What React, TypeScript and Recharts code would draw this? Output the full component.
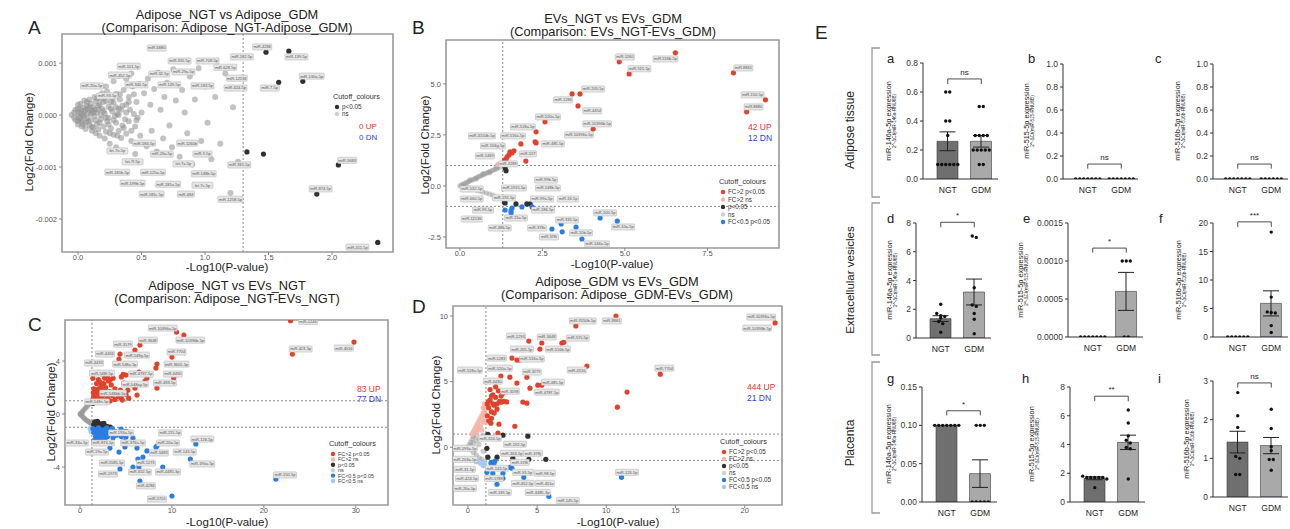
import React from 'react';
import {
  ScatterChart, Scatter, XAxis, YAxis, ReferenceLine, ReferenceArea, ReferenceDot,
  ComposedChart, Bar, Cell, ErrorBar,
} from 'recharts';

const FONT = "'Liberation Sans', Arial, Helvetica, sans-serif";
type Pt = [number, number];
type Lab = [string, number, number];

const RED = '#e2422b';
const PINK = '#f4b6a8';
const BLUE = '#2a7de1';
const LBLUE = '#a9c8ef';
const DARK = '#303030';
const GREY = '#9a9a9a';

// ---------------- Panel A : Adipose_NGT vs Adipose_GDM ----------------
const aNs: Pt[] = [
  [0.00, 0.00e-3], [0.01, 0.05e-3], [0.01, -0.05e-3], [0.02, 0.10e-3], [0.02, -0.08e-3], [0.03, 0.02e-3], [0.03, -0.12e-3],
  [0.04, 0.14e-3], [0.05, -0.03e-3], [0.05, 0.07e-3], [0.06, -0.15e-3], [0.07, 0.18e-3], [0.07, -0.06e-3], [0.08, 0.04e-3],
  [0.09, -0.20e-3], [0.10, 0.22e-3], [0.10, -0.10e-3], [0.11, 0.09e-3], [0.12, -0.24e-3], [0.12, 0.15e-3], [0.13, -0.02e-3],
  [0.14, 0.26e-3], [0.15, -0.17e-3], [0.15, 0.05e-3], [0.16, -0.28e-3], [0.17, 0.20e-3], [0.18, -0.08e-3], [0.18, 0.31e-3],
  [0.19, 0.12e-3], [0.20, -0.22e-3], [0.21, 0.03e-3], [0.22, 0.27e-3], [0.22, -0.32e-3], [0.23, -0.12e-3], [0.24, 0.16e-3],
  [0.25, 0.36e-3], [0.26, -0.26e-3], [0.27, 0.07e-3], [0.28, -0.38e-3], [0.28, 0.24e-3], [0.30, 0.41e-3], [0.30, -0.15e-3],
  [0.31, 0.02e-3], [0.32, -0.30e-3], [0.33, 0.30e-3], [0.34, -0.44e-3], [0.35, 0.18e-3], [0.36, 0.48e-3], [0.37, -0.08e-3],
  [0.38, -0.36e-3], [0.40, 0.35e-3], [0.41, 0.10e-3], [0.42, -0.50e-3], [0.43, 0.55e-3], [0.45, -0.22e-3], [0.46, 0.25e-3],
  [0.48, 0.60e-3], [0.49, -0.40e-3], [0.50, 0.05e-3],
  [0.00, 0.12e-3], [0.00, -0.12e-3], [0.00, 0.20e-3], [0.00, -0.18e-3], [0.02, 0.22e-3], [0.03, -0.22e-3], [0.05, 0.28e-3],
  [0.06, -0.27e-3], [0.08, 0.12e-3], [0.09, 0.30e-3], [0.11, -0.30e-3], [0.13, 0.35e-3], [0.14, -0.35e-3], [0.16, 0.10e-3],
  [0.17, -0.40e-3], [0.19, 0.42e-3], [0.21, -0.45e-3], [0.23, 0.45e-3], [0.24, -0.05e-3], [0.26, 0.12e-3], [0.29, -0.02e-3],
  [0.32, 0.12e-3], [0.35, -0.20e-3], [0.38, 0.20e-3], [0.40, -0.12e-3], [0.44, 0.02e-3], [0.47, -0.05e-3],
  [0.04, 0.00e-3], [0.06, 0.10e-3], [0.08, -0.12e-3], [0.10, 0.02e-3], [0.12, 0.05e-3], [0.14, -0.10e-3], [0.16, 0.18e-3],
  [0.18, 0.00e-3], [0.20, 0.08e-3], [0.22, -0.05e-3], [0.24, -0.18e-3], [0.26, 0.25e-3], [0.28, -0.10e-3], [0.30, 0.15e-3],
  [0.32, 0.00e-3], [0.34, 0.10e-3], [0.36, -0.25e-3], [0.20, 0.25e-3], [0.25, -0.35e-3], [0.15, 0.32e-3], [0.11, -0.22e-3],
  [0.07, 0.25e-3], [0.04, -0.18e-3], [0.09, 0.15e-3], [0.13, 0.10e-3], [0.17, -0.15e-3], [0.21, 0.35e-3], [0.27, 0.33e-3],
  [0.31, -0.40e-3], [0.33, 0.40e-3], [0.38, 0.05e-3], [0.40, 0.25e-3], [0.42, -0.30e-3], [0.44, 0.40e-3], [0.46, -0.10e-3],
  [-0.03, 0.05e-3], [-0.03, -0.05e-3], [-0.05, 0.00e-3], [-0.02, 0.10e-3], [-0.02, -0.10e-3],
  [0.22, 0.55e-3], [0.28, 0.65e-3], [0.32, 0.75e-3], [0.38, 0.70e-3], [0.25, -0.55e-3], [0.30, -0.62e-3], [0.36, -0.70e-3],
  [0.42, 0.80e-3], [0.45, -0.75e-3],
  [0.52, 0.42e-3], [0.54, -0.60e-3], [0.55, 0.70e-3], [0.57, 0.20e-3], [0.58, -0.30e-3], [0.60, 0.50e-3], [0.62, -0.70e-3],
  [0.63, 0.82e-3], [0.65, 0.10e-3], [0.67, -0.45e-3], [0.68, 0.35e-3], [0.70, 0.62e-3], [0.72, -0.20e-3], [0.74, -0.62e-3],
  [0.75, 0.88e-3], [0.77, 0.28e-3], [0.80, -0.80e-3], [0.82, 0.48e-3], [0.84, 0.05e-3], [0.86, -0.35e-3], [0.88, 0.74e-3],
  [0.90, -0.95e-3], [0.92, 0.30e-3], [0.95, 0.90e-3], [0.97, -0.50e-3], [1.00, 0.55e-3], [1.02, -0.15e-3], [1.05, -0.85e-3],
  [1.08, 0.35e-3], [1.12, -0.55e-3], [1.16, 0.80e-3], [1.20, -1.50e-3], [1.22, 0.15e-3], [1.26, -0.90e-3],
];
const aSig: Pt[] = [
  [1.48, 1.21e-3], [1.66, 1.23e-3], [1.58, 0.63e-3], [1.77, 0.65e-3], [1.33, -0.71e-3], [1.46, -0.75e-3],
  [2.05, -0.96e-3], [1.88, -1.52e-3], [2.36, -2.45e-3],
];
const aLabels: Lab[] = [
  ['miR-6880', 0.62, 1.29e-3], ['miR-708-5p', 1.02, 1.04e-3], ['miR-335-5p', 0.80, 1.04e-3], ['miR-101-5p', 0.40, 0.94e-3],
  ['miR-4286', 1.45, 1.31e-3], ['miR-182-5p', 1.29, 1.12e-3], ['miR-139-5p', 1.72, 1.12e-3], ['miR-628-5p', 1.16, 0.92e-3],
  ['miR-29a-5p', 0.83, 0.83e-3], ['miR-32-5p', 0.64, 0.79e-3], ['miR-452-5p', 0.33, 0.77e-3], ['miR-12136', 1.25, 0.71e-3],
  ['miR-130a-5p', 1.84, 0.75e-3], ['miR-20a-5p', 0.11, 0.56e-3], ['miR-340-5p', 0.46, 0.58e-3], ['miR-149-5p', 0.72, 0.58e-3],
  ['miR-183-5p', 0.98, 0.56e-3], ['miR-424-5p', 1.24, 0.52e-3], ['miR-7-5p', 1.51, 0.52e-3], ['miR-93-5p', 0.23, 0.37e-3],
  ['miR-584-5p', 0.52, -0.54e-3], ['miR-1260b', 0.86, -0.54e-3], ['let-7e-5p', 0.31, -0.69e-3], ['miR-26a-5p', 0.66, -0.75e-3],
  ['miR-9-5p', 0.98, -0.75e-3], ['let-7f-5p', 0.43, -0.90e-3], ['let-7a-5p', 0.83, -0.94e-3], ['miR-365-5p', 1.27, -0.96e-3],
  ['miR-5683', 2.12, -0.87e-3], ['miR-181b-5p', 0.31, -1.10e-3], ['miR-125a-5p', 0.59, -1.10e-3], ['miR-148b-5p', 0.99, -1.13e-3],
  ['miR-199b-5p', 0.43, -1.31e-3], ['miR-181a-5p', 0.71, -1.33e-3], ['let-7c-5p', 0.98, -1.35e-3], ['miR-874-5p', 1.91, -1.42e-3],
  ['miR-181c-5p', 0.58, -1.52e-3], ['miR-484', 0.85, -1.52e-3], ['miR-1258-5p', 1.20, -1.62e-3], ['miR-411-5p', 2.20, -2.54e-3],
];

// ---------------- Panel B : EVs_NGT vs EVs_GDM ----------------
const bUp: Pt[] = [
  [6.53, 6.52], [4.83, 6.08], [5.13, 5.49], [8.29, 5.54], [9.26, 4.22], [8.69, 3.63], [3.64, 4.51], [3.40, 4.51],
  [3.58, 3.92], [4.04, 2.79], [2.58, 3.14], [2.31, 2.65], [2.28, 2.16], [2.31, 2.11], [1.85, 2.06], [1.64, 1.72],
  [1.58, 1.62], [1.49, 1.52], [1.43, 1.42], [1.40, 1.32], [2.00, 1.22], [1.32, 1.05], [1.35, 1.27], [1.52, 1.67],
];
const bFcNs: Pt[] = [[1.15, 1.05], [1.25, 1.10]];
const bSig: Pt[] = [[1.37, 0.88], [1.40, 0.74], [1.37, -0.83], [1.70, -0.88], [2.03, -0.88], [2.13, -0.88], [1.35, -0.80]];
const bNs: Pt[] = [
  [0.00, 0.00], [0.05, 0.05], [0.10, 0.09], [0.15, 0.13], [0.20, 0.17], [0.25, 0.20], [0.30, 0.24], [0.35, 0.28],
  [0.40, 0.31], [0.45, 0.36], [0.50, 0.40], [0.55, 0.44], [0.60, 0.47], [0.65, 0.51], [0.70, 0.55], [0.75, 0.58],
  [0.80, 0.62], [0.85, 0.66], [0.90, 0.70], [0.95, 0.73], [1.00, 0.77], [1.05, 0.80], [1.10, 0.84], [1.15, 0.88],
  [1.20, 0.92], [0.30, 0.30], [0.50, 0.35], [0.70, 0.60], [0.90, 0.65], [1.10, 0.95], [0.20, -0.05], [0.40, -0.12],
  [0.60, -0.25], [0.80, -0.35], [1.00, -0.45], [1.20, -0.60], [0.10, -0.03], [0.30, -0.10], [0.50, -0.20], [0.70, -0.30],
  [0.90, -0.40], [1.10, -0.55],
];
const bDn: Pt[] = [
  [1.37, -1.18], [1.55, -1.23], [1.58, -1.08], [1.88, -1.03], [2.19, -1.03], [4.25, -1.57], [4.77, -1.72],
  [3.07, -1.86], [2.79, -2.11], [3.52, -2.01], [3.10, -2.25], [3.70, -2.60], [1.55, -1.33],
];
const bLabels: Lab[] = [
  ['miR-1260', 5.0, 6.32], ['miR-516b-5p', 6.23, 6.22], ['miR-515-5p', 5.44, 5.74], ['miR-8861', 8.59, 5.78],
  ['miR-205-5p', 4.04, 4.75], ['miR-1283', 3.13, 4.22], ['miR-150-5p', 8.87, 4.46], ['miR-4454', 4.01, 3.68],
  ['miR-8880', 8.90, 3.87], ['miR-520a-5p', 2.67, 3.38], ['miR-10396b-5p', 4.16, 3.04], ['miR-518a-5p', 1.91, 2.89],
  ['miR-10396a-5p', 3.61, 2.50], ['miR-3150b-5p', 0.67, 2.45], ['miR-516a-5p', 1.61, 2.45], ['miR-106g-5p', 1.0, 1.96],
  ['miR-485-5p', 2.82, 2.06], ['miR-1469', 0.76, 1.47], ['miR-527', 2.06, 1.57], ['miR-4289', 1.46, 1.08],
  ['miR-99b-5p', 2.61, 0.29], ['miR-1915-5p', 1.64, -0.10], ['miR-148b-5p', 2.67, -0.10], ['miR-532-5p', 0.36, -0.15],
  ['miR-192-5p', 1.34, -0.59], ['miR-660-5p', 0.36, -0.64], ['miR-99a-5p', 2.49, -0.64], ['miR-16-5p', 3.28, -0.64],
  ['miR-99-5p', 0.70, -1.18], ['miR-186-5p', 2.52, -1.18], ['miR-12136', 0.36, -1.62], ['miR-15a-5p', 1.70, -1.57],
  ['miR-100-5p', 4.40, -1.32], ['miR-486-5p', 1.21, -2.06], ['miR-335-5p', 3.25, -1.67], ['miR-10a-5p', 4.95, -2.01],
  ['miR-378c', 2.34, -2.06], ['miR-10b-5p', 3.67, -2.30], ['miR-378i', 2.70, -2.50], ['miR-146a-5p', 4.16, -2.84],
];

// ---------------- Panel C : Adipose_NGT vs EVs_NGT ----------------
const cUp: Pt[] = [
  [22.9, 7.05], [29.8, 5.43], [23.1, 4.53], [10.5, 6.19], [11.3, 5.96], [6.52, 5.21], [5.98, 4.83], [4.35, 4.53],
  [4.24, 4.15], [10.0, 4.30], [8.37, 3.77], [8.26, 3.47], [6.41, 3.17], [7.28, 2.72], [7.07, 2.49], [10.2, 2.72],
  [8.37, 1.96], [5.98, 1.96], [6.2, 1.43], [4.78, 2.34], [5.0, 2.94], [4.5, 2.8], [4.7, 3.0], [2.7, 2.7], [1.4, 2.7],
  [1.4, 1.1], [1.5, 1.3], [1.6, 1.5], [1.7, 1.2], [1.8, 1.7], [1.9, 1.4], [2.0, 1.9], [2.1, 1.1], [2.2, 1.6], [2.3, 2.1],
  [2.4, 1.3], [2.5, 1.8], [2.6, 2.3], [2.7, 1.5], [2.8, 2.0], [3.0, 1.2], [3.1, 2.5], [3.2, 1.7], [3.4, 2.2], [3.5, 1.4],
  [3.6, 2.7], [3.8, 1.9], [4.0, 1.6], [4.2, 1.3], [4.4, 1.8], [2.0, 2.6], [2.7, 2.8], [1.6, 1.0], [2.9, 1.1], [3.3, 1.0],
  [3.8, 1.1], [4.5, 1.2], [5.0, 1.5], [5.2, 1.8], [1.5, 1.9], [1.8, 2.3], [2.2, 2.4], [3.0, 2.9], [3.3, 2.6], [1.45, 1.6],
  [4.6, 1.05], [5.3, 1.2],
];
const cSig: Pt[] = [
  [1.5, -0.8], [1.8, -0.85], [2.1, -0.9], [2.4, -0.95], [2.7, -0.9], [3.0, -0.95], [1.6, -0.6], [2.0, -0.7],
  [2.3, -0.75], [3.3, -0.98], [1.4, 0.8], [1.6, 0.9], [1.9, -0.55], [2.6, -0.7],
];
const cNs: Pt[] = [
  [1.2, 0.95], [1.0, 0.8], [0.8, 0.6], [0.6, 0.45], [0.4, 0.3], [0.25, 0.15], [0.1, 0.05], [0.0, 0.0], [0.1, -0.08],
  [0.3, -0.2], [0.5, -0.35], [0.7, -0.45], [0.9, -0.55], [1.1, -0.65], [1.3, -0.75], [1.1, 0.9], [0.9, 0.72], [0.7, 0.55],
  [0.5, 0.38], [0.3, 0.2], [0.2, 0.1], [0.2, -0.12], [0.4, -0.28], [0.6, -0.42], [0.8, -0.52], [1.0, -0.6], [1.2, -0.7],
  [1.3, 0.85], [0.05, 0.02], [0.15, -0.03],
];
const cDn: Pt[] = [
  [1.4, -1.1], [1.5, -1.4], [1.6, -1.2], [1.7, -1.7], [1.8, -1.3], [1.9, -1.9], [2.0, -1.5], [2.1, -1.1], [2.2, -1.8],
  [2.3, -1.3], [2.4, -2.1], [2.5, -1.6], [2.6, -1.2], [2.7, -1.9], [2.8, -1.4], [3.0, -1.7], [3.1, -2.2], [3.2, -1.2],
  [3.4, -1.5], [3.6, -1.8], [3.8, -1.3], [4.0, -1.6], [4.3, -1.4], [1.5, -2.0], [1.8, -2.2], [2.0, -1.05], [2.9, -1.05],
  [3.5, -1.1], [4.5, -1.7], [5.0, -1.3],
  [4.46, -1.13], [5.0, -1.73], [5.76, -1.81], [4.78, -2.11], [4.89, -2.49], [3.26, -2.57], [4.24, -2.87], [6.2, -2.57],
  [7.28, -2.79], [8.26, -2.49], [8.37, -2.42], [12.6, -2.26], [6.85, -3.25], [6.3, -3.40], [12.0, -3.40], [9.0, -4.0],
  [4.35, -4.15], [5.76, -4.0], [6.41, -4.0], [6.52, -5.06], [10.0, -6.19], [21.3, -4.91], [2.28, -1.58], [2.9, -1.66],
];
const cDnNs: Pt[] = [[1.1, -1.1], [1.2, -1.3]];
const cLabels: Lab[] = [
  ['miR-1246', 24.8, 7.0], ['miR-10396a-5p', 9.0, 6.49], ['miR-10396b-5p', 12.0, 5.58], ['miR-3179', 4.67, 5.28],
  ['miR-3648', 7.39, 5.58], ['miR-423-5p', 24.0, 4.91], ['miR-4516', 28.7, 4.98], ['miR-4466', 2.72, 4.53],
  ['miR-548g-5p', 6.2, 4.45], ['miR-7704', 10.5, 4.68], ['miR-4433', 1.52, 3.85], ['miR-548a-5p', 4.9, 3.77],
  ['miR-3605-5p', 10.5, 3.77], ['miR-548f-5p', 2.39, 3.09], ['miR-4787-5p', 6.63, 3.02], ['miR-4490', 10.1, 3.02],
  ['miR-548ay-5p', 5.98, 2.26], ['miR-483-5p', 9.24, 2.34], ['miR-548bb-5p', 3.59, 1.58], ['miR-548n-5p', 1.85, 0.91],
  ['miR-193a-5p', 4.46, -1.43], ['miR-215-5p', 9.78, -1.43], ['miR-33a-5p', -0.33, -2.19], ['miR-874-5p', 2.5, -2.19],
  ['miR-376a-5p', 5.76, -2.19], ['miR-20a-5p', 9.57, -2.19], ['miR-126-5p', 13.3, -1.89], ['miR-19a-5p', 1.85, -2.87],
  ['miR-5683', 8.59, -2.94], ['miR-143-5p', 11.4, -2.87], ['miR-5585-5p', 3.48, -3.70], ['miR-1273', 7.17, -3.70],
  ['miR-190a-5p', 13.3, -3.77], ['miR-1973', 3.04, -4.53], ['miR-652-5p', 6.52, -4.38], ['miR-4485-3p', 9.57, -4.38],
  ['miR-150-5p', 22.3, -4.6], ['miR-4284', 7.17, -5.43], ['miR-5701', 8.37, -6.42],
];

// ---------------- Panel D : Adipose_GDM vs EVs_GDM ----------------
const dUp: Pt[] = [
  [10.7, 10.0], [7.8, 9.24], [22.2, 9.47], [4.4, 8.09], [5.34, 7.94], [6.79, 7.94], [6.93, 8.0], [5.2, 7.48],
  [3.18, 6.79], [3.54, 6.64], [3.75, 6.64], [8.6, 6.18], [13.9, 5.57], [2.38, 5.42], [3.03, 5.34], [4.26, 5.34],
  [3.54, 4.89], [4.48, 4.5], [5.05, 4.73], [5.34, 4.73], [11.5, 4.2], [10.8, 3.05], [3.97, 3.44], [4.26, 3.36],
  [2.31, 3.44], [2.45, 3.44], [3.39, 1.6], [2.24, 1.76], [1.66, 1.83], [2.17, 1.07],
  [1.4, 2.4], [1.5, 3.0], [1.6, 3.6], [1.7, 2.7], [1.8, 4.0], [1.9, 3.2], [2.0, 3.8], [2.1, 2.9], [2.2, 4.3], [2.3, 3.5],
  [1.5, 2.0], [1.6, 4.4], [1.8, 3.3], [2.0, 4.6], [2.4, 3.9], [1.7, 2.2], [1.4, 3.3], [2.5, 4.1], [2.1, 3.3], [1.9, 2.6],
  [2.6, 3.5], [2.8, 3.45], [1.5, 3.5], [1.7, 3.9],
];
const dFcNs: Pt[] = [
  [0.3, 1.0], [0.4, 1.2], [0.5, 1.4], [0.6, 1.6], [0.7, 1.8], [0.8, 2.0], [0.9, 2.2], [1.0, 2.4], [1.1, 2.6], [1.2, 2.8],
  [1.25, 3.0], [1.2, 3.3], [0.5, 1.1], [0.7, 1.3], [0.9, 1.6], [1.1, 1.9], [1.0, 1.3], [1.2, 2.1], [0.8, 1.5], [0.6, 1.2],
  [1.25, 2.5], [1.1, 3.0],
];
const dNs: Pt[] = [
  [0.0, 0.0], [0.1, 0.2], [0.2, 0.4], [0.3, 0.6], [0.4, 0.8], [0.5, 0.9], [0.2, 0.1], [0.4, 0.3], [0.6, 0.5], [0.8, 0.7],
  [1.0, 0.8], [1.2, 0.9], [0.2, -0.2], [0.4, -0.4], [0.6, -0.6], [0.8, -0.8], [1.0, -0.9], [0.5, -0.2], [0.8, 0.2],
  [1.1, -0.3], [0.3, -0.1],
];
const dSig: Pt[] = [
  [2.53, 0.92], [4.33, 0.84], [1.44, 0.99], [5.63, -0.92], [3.25, -0.84], [2.1, -0.76], [1.44, -0.76], [4.4, -0.92], [1.37, -0.08],
];
const dDn: Pt[] = [
  [1.73, -1.15], [1.95, -1.05], [1.66, -1.2], [1.88, -1.22], [3.03, -1.53], [3.18, -1.6], [1.37, -1.91], [1.8, -1.98],
  [2.53, -1.98], [2.1, -2.82], [2.53, -2.37], [4.04, -2.29], [11.1, -2.29], [5.85, -3.74],
];
const dDnNs: Pt[] = [[0.6, -1.1], [0.9, -1.2], [1.1, -1.4], [1.2, -1.1]];
const dLabels: Lab[] = [
  ['miR-3150b-5p', 8.3, 9.62], ['miR-8861', 10.4, 9.62], ['miR-10396a-5p', 21.2, 9.92], ['miR-10396b-5p', 20.9, 9.08],
  ['miR-1293', 3.47, 8.47], ['miR-3648', 5.7, 8.4], ['miR-515-5p', 7.94, 8.32], ['miR-205-5p', 3.9, 7.48],
  ['miR-516b-5p', 6.5, 7.48], ['miR-1283', 2.09, 6.79], ['miR-516a-5p', 4.62, 6.72], ['miR-518a-5p', 0.14, 5.88],
  ['miR-520a-5p', 2.31, 6.03], ['miR-4516', 7.87, 5.88], ['miR-7704', 14.2, 6.03], ['miR-3179', 4.62, 5.73],
  ['miR-4430', 1.8, 5.04], ['miR-485-5p', 6.14, 4.96], ['miR-3198', 3.03, 4.27], ['miR-4787-5p', 5.7, 4.2],
  ['miR-324-5p', 1.59, 0.69], ['miR-192-5p', 3.39, 0.23], ['miR-193a-5p', -0.22, -0.08], ['miR-363-5p', 3.18, -0.46],
  ['miR-378j', 4.69, -0.46], ['miR-203a-5p', -0.22, -0.92], ['miR-378i', 3.75, -1.15], ['miR-31-5p', -0.22, -1.68],
  ['miR-143-5p', 2.09, -1.6], ['miR-93-5p', 3.97, -1.91], ['miR-98-5p', 5.56, -1.98], ['miR-424-5p', -0.07, -2.37],
  ['miR-5788', 1.88, -2.37], ['miR-452-5p', 3.97, -2.75], ['miR-451a', 5.56, -2.75], ['miR-126-5p', 11.5, -1.91],
  ['miR-20a-5p', -0.22, -3.13], ['miR-139-5p', 2.31, -3.44], ['miR-4485-3p', 5.05, -3.44], ['miR-145-5p', 7.22, -4.05],
];

// ---------------- Panel E : qPCR bar charts ----------------
const groups = ['NGT', 'GDM'];
const aMeans = [0.26, 0.26], aSems = [0.065, 0.04];
const aNGT = [0.6, 0.6, 0.4, 0.4, 0.3, 0.1, 0.1, 0.1, 0.1, 0.1, 0.1];
const aGDM = [0.5, 0.5, 0.3, 0.3, 0.3, 0.3, 0.2, 0.2, 0.2, 0.2, 0.2, 0.1, 0.1];
const bMeans = [0, 0], bSems = [0, 0];
const bNGT = [0, 0, 0, 0, 0, 0, 0];
const bGDM = [0, 0, 0, 0, 0, 0, 0];
const cMeans = [0, 0], cSems = [0, 0];
const cNGT = [0, 0, 0, 0, 0, 0, 0];
const cGDM = [0, 0, 0, 0, 0, 0];
const dMeans = [1.35, 3.2], dSems = [0.2, 0.9];
const dNGT = [2.35, 1.7, 1.55, 1.5, 1.4, 1.15, 1.0, 0.4];
const dGDM = [7.0, 7.1, 3.5, 2.3, 2.2, 1.7, 1.3, 0.3];
const eMeans = [0, 0.0006], eSems = [0, 0.00025];
const eNGT = [0, 0, 0, 0, 0, 0, 0];
const eGDM = [0.001, 0.001, 0.001, 0, 0];
const fMeans = [0, 5.9], fSems = [0, 2.2];
const fNGT = [0, 0, 0, 0, 0, 0];
const fGDM = [18.4, 7.0, 4.4, 4.3, 4.2, 2.0, 0.8];
const gMeans = [0.1, 0.037], gSems = [0, 0.018];
const gNGT = [0.1, 0.1, 0.1, 0.1, 0.1, 0.1, 0.1];
const gGDM = [0.1, 0.1, 0.1, 0, 0, 0, 0, 0];
const hMeans = [1.65, 4.15], hSems = [0.1, 0.5];
const hNGT = [1.8, 1.7, 1.7, 1.7, 1.7, 1.7, 1.6, 1.0];
const hGDM = [6.4, 5.5, 4.6, 4.3, 4.1, 3.8, 3.7, 1.6];
const iMeans = [1.42, 1.33], iSems = [0.28, 0.21];
const iNGT = [2.7, 2.1, 1.8, 1.05, 1.0, 0.58, 0.58];
const iGDM = [2.27, 1.77, 1.3, 1.2, 0.97, 0.97, 0.69];

// ---------------- helpers ----------------
const toXY = (a: Pt[]) => a.map(([x, y]) => ({ x, y }));
const toLab = (a: Lab[]) => a.map(([name, x, y]) => ({ x, y, name }));

const dotShape = (fill: string, op = 1, r = 2.6) => (p: any) =>
  p.cx == null ? <g /> : <circle cx={p.cx} cy={p.cy} r={r} fill={fill} fillOpacity={op} />;

const labelShape = (p: any) => {
  const name: string = p.payload?.name ?? '';
  const w = name.length * 1.95 + 3.5;
  const h = 6.2;
  if (p.cx == null) return <g />;
  return (
    <g>
      <rect x={p.cx - w / 2} y={p.cy - h / 2} width={w} height={h} rx={0.8} fill="#e6e6e6" stroke="#b0b0b0" strokeWidth={0.5} />
      <text x={p.cx} y={p.cy + 1.45} fontSize={4} textAnchor="middle" fill="#555">{name}</text>
    </g>
  );
};

function swarm(vals: number[], gi: number, tol: number, step: number) {
  const sorted = [...vals].sort((a, b) => b - a);
  const gs: number[][] = [];
  for (const v of sorted) {
    const g = gs.find((q) => Math.abs(q[0] - v) <= tol);
    if (g) g.push(v); else gs.push([v]);
  }
  return gs.flatMap((g) => g.map((v, i) => ({ x: gi + (i - (g.length - 1) / 2) * step, y: v })));
}

function Volcano(props: any) {
  const { left, top, width, height, mt, mr, yw, xh, xDomain, yDomain, xTicks, yTicks, xFmt, yFmt, series, labels, hlines } = props;
  const tick = { fontSize: 7.5, fill: '#555' };
  return (
    <div style={{ position: 'absolute', left, top }}>
      <ScatterChart width={width} height={height} margin={{ top: mt, right: mr, bottom: 0, left: 0 }}>
        <XAxis type="number" dataKey="x" domain={xDomain} ticks={xTicks} tickFormatter={xFmt} allowDataOverflow
          height={xh} axisLine={false} tickSize={3} tickMargin={0} tickLine={{ stroke: '#888' }} tick={tick} interval={0} />
        <YAxis type="number" dataKey="y" domain={yDomain} ticks={yTicks} tickFormatter={yFmt} allowDataOverflow
          width={yw} axisLine={false} tickSize={3} tickLine={{ stroke: '#888' }} tick={tick} interval={0} />
        <ReferenceArea x1={xDomain[0]} x2={xDomain[1]} y1={yDomain[0]} y2={yDomain[1]} fill="#fff" fillOpacity={0}
          stroke="#9a9a9a" strokeWidth={1.6} ifOverflow="visible" />
        <ReferenceLine x={1.3} stroke="#8a8a8a" strokeDasharray="2 2" />
        {hlines.map((h: number) => <ReferenceLine key={h} y={h} stroke="#8a8a8a" strokeDasharray="2 2" />)}
        {series.map((s: any, i: number) => (
          <Scatter key={i} data={toXY(s.data)} isAnimationActive={false} shape={dotShape(s.fill, s.op, s.r ?? 2.6)} />
        ))}
        <Scatter data={toLab(labels)} isAnimationActive={false} shape={labelShape} />
      </ScatterChart>
    </div>
  );
}

function BarPanel(props: any) {
  const { axisX, yTop, yBottom, max, ticks, fmt, means, sems, ngt, gdm, sig, h, d } = props;
  const mt = 22, xh = 18, W = 113;
  const H = yBottom - yTop + mt + xh;
  const barData = groups.map((g, i) => ({ name: g, mean: means[i], sem: sems[i] }));
  const tol = max * 0.03;
  const dots = [...swarm(ngt, 0, tol, 0.12), ...swarm(gdm, 1, tol, 0.12)];
  const pad = { left: 8, right: 0 };
  return (
    <div style={{ position: 'absolute', left: axisX - 33, top: yTop - mt }}>
      <ComposedChart width={W} height={H} data={barData} margin={{ top: mt, right: 5, bottom: 0, left: 0 }}>
        <XAxis xAxisId="cat" type="category" dataKey="name" padding={pad} height={xh} tickLine={false} tickSize={6}
          axisLine={{ stroke: '#333' }} tick={{ fontSize: 8.5, fill: '#222' }} interval={0} />
        <XAxis xAxisId="num" type="number" dataKey="x" domain={[-0.5, 1.5]} padding={pad} hide allowDataOverflow />
        <YAxis type="number" dataKey="y" domain={[0, max]} ticks={ticks} tickFormatter={fmt} allowDataOverflow width={33}
          tickSize={3} axisLine={{ stroke: '#333' }} tickLine={{ stroke: '#333' }} tick={{ fontSize: 8.5, fill: '#333' }} interval={0} />
        <Bar xAxisId="cat" dataKey="mean" barSize={21} isAnimationActive={false} stroke="#3a3a3a" strokeWidth={0.6}>
          <Cell fill="#6f6f6f" />
          <Cell fill="#a9a9a9" />
          <ErrorBar dataKey="sem" width={8} stroke="#222" strokeWidth={1} direction="y" isAnimationActive={false} />
        </Bar>
        <Scatter xAxisId="num" data={dots} isAnimationActive={false} shape={dotShape('#111', 1, 1.7)} />
        <ReferenceLine xAxisId="num" segment={[{ x: 0, y: h }, { x: 1, y: h }]} stroke="#222" strokeWidth={0.8} ifOverflow="visible" />
        <ReferenceLine xAxisId="num" segment={[{ x: 0, y: h }, { x: 0, y: h - d }]} stroke="#222" strokeWidth={0.8} ifOverflow="visible" />
        <ReferenceLine xAxisId="num" segment={[{ x: 1, y: h }, { x: 1, y: h - d }]} stroke="#222" strokeWidth={0.8} ifOverflow="visible" />
        <ReferenceDot xAxisId="num" x={0.5} y={h} r={1} fill="none" stroke="none" ifOverflow="visible"
          label={{ value: sig, position: 'top', fontSize: 8, fill: '#222', offset: 3 }} />
      </ComposedChart>
    </div>
  );
}

const f1 = (v: number) => v.toFixed(1);
const f0 = (v: number) => String(v);

const Rot = ({ x, y, size, children, fill = '#222' }: any) => (
  <text transform={`translate(${x},${y}) rotate(-90)`} textAnchor="middle" fontSize={size} fill={fill}>{children}</text>
);

function Legend({ x, y, items, dy, fs = 6.3 }: any) {
  return (
    <g>
      <text x={x} y={y} fontSize={7.3} fill="#333">Cutoff_colours</text>
      {items.map((it: any, i: number) => (
        <g key={i}>
          <circle cx={x + 4} cy={y + 8 + i * dy} r={2.2} fill={it[0]} />
          <text x={x + 9} y={y + 8 + fs * 0.36 + i * dy} fontSize={fs} fill="#333">{it[1]}</text>
        </g>
      ))}
    </g>
  );
}

const fullItems = [[RED, 'FC>2 p<0.05'], [PINK, 'FC>2 ns'], [DARK, 'p<0.05'], ['#cfcfcf', 'ns'], [BLUE, 'FC<0.5 p<0.05'], [LBLUE, 'FC<0.5 ns']];

export default function App() {
  return (
    <div style={{ position: 'absolute', left: 0, top: 0, width: 1290, height: 529, background: '#fff', overflow: 'hidden', fontFamily: FONT }}>
      <Volcano left={0} top={0} width={400} height={272} mt={34} mr={7} yw={62} xh={20}
        xDomain={[-0.126, 2.48]} yDomain={[-2.635e-3, 1.56e-3]} xTicks={[0, 0.5, 1, 1.5, 2]} yTicks={[-0.002, -0.001, 0, 0.001]}
        xFmt={f1} yFmt={(v: number) => v.toFixed(3)} hlines={[]} labels={aLabels}
        series={[{ data: aNs, fill: '#8f8f8f', op: 0.55, r: 3 }, { data: aSig, fill: DARK, op: 1 }]} />
      <Volcano left={420} top={0} width={380} height={268} mt={40} mr={21} yw={26} xh={20}
        xDomain={[-0.42, 9.67]} yDomain={[-3.04, 7.15]} xTicks={[0, 2.5, 5, 7.5]} yTicks={[-2.5, 0, 2.5, 5]}
        xFmt={f1} yFmt={f1} hlines={[1, -1]} labels={bLabels}
        series={[{ data: bNs, fill: GREY, op: 0.5 }, { data: bFcNs, fill: PINK, op: 1 }, { data: bSig, fill: DARK, op: 1 },
          { data: bUp, fill: RED, op: 1 }, { data: bDn, fill: BLUE, op: 1 }]} />
      <Volcano left={0} top={300} width={400} height={225} mt={20} mr={12} yw={65} xh={20}
        xDomain={[-1.63, 33.5]} yDomain={[-6.87, 7.1]} xTicks={[0, 10, 20, 30]} yTicks={[-4, 0, 4]}
        xFmt={f0} yFmt={f0} hlines={[1, -1]} labels={cLabels}
        series={[{ data: cNs, fill: GREY, op: 0.6 }, { data: cDnNs, fill: LBLUE, op: 1 }, { data: cSig, fill: DARK, op: 1 },
          { data: cUp, fill: RED, op: 1 }, { data: cDn, fill: BLUE, op: 1 }]} />
      <Volcano left={420} top={290} width={380} height={235} mt={16} mr={18} yw={33} xh={20}
        xDomain={[-1.08, 22.7]} yDomain={[-4.4, 10.76]} xTicks={[0, 5, 10, 15, 20]} yTicks={[0, 5, 10]}
        xFmt={f0} yFmt={f0} hlines={[1, -1]} labels={dLabels}
        series={[{ data: dNs, fill: GREY, op: 0.5 }, { data: dFcNs, fill: PINK, op: 0.9 }, { data: dDnNs, fill: LBLUE, op: 1 },
          { data: dSig, fill: DARK, op: 1 }, { data: dUp, fill: RED, op: 1 }, { data: dDn, fill: BLUE, op: 1 }]} />

      <BarPanel axisX={923} yTop={63} yBottom={179} max={0.8} ticks={[0, 0.2, 0.4, 0.6, 0.8]} fmt={f1}
        means={aMeans} sems={aSems} ngt={aNGT} gdm={aGDM} sig="ns" h={0.69} d={0.035} />
      <BarPanel axisX={1063} yTop={64} yBottom={179} max={1} ticks={[0, 0.2, 0.4, 0.6, 0.8, 1]} fmt={f1}
        means={bMeans} sems={bSems} ngt={bNGT} gdm={bGDM} sig="ns" h={0.13} d={0.04} />
      <BarPanel axisX={1213} yTop={64} yBottom={179} max={1} ticks={[0, 0.2, 0.4, 0.6, 0.8, 1]} fmt={f1}
        means={cMeans} sems={cSems} ngt={cNGT} gdm={cGDM} sig="ns" h={0.13} d={0.04} />
      <BarPanel axisX={916} yTop={223} yBottom={338} max={8} ticks={[0, 2, 4, 6, 8]} fmt={f0}
        means={dMeans} sems={dSems} ngt={dNGT} gdm={dGDM} sig="*" h={8.05} d={0.35} />
      <BarPanel axisX={1068} yTop={223} yBottom={337} max={0.0015} ticks={[0, 0.0005, 0.001, 0.0015]} fmt={(v: number) => v.toFixed(4)}
        means={eMeans} sems={eSems} ngt={eNGT} gdm={eGDM} sig="*" h={0.00117} d={0.00006} />
      <BarPanel axisX={1213} yTop={223} yBottom={337} max={20} ticks={[0, 5, 10, 15, 20]} fmt={f0}
        means={fMeans} sems={fSems} ngt={fNGT} gdm={fGDM} sig="***" h={20.2} d={0.9} />
      <BarPanel axisX={922} yTop={387} yBottom={502} max={0.15} ticks={[0, 0.05, 0.1, 0.15]} fmt={(v: number) => v.toFixed(2)}
        means={gMeans} sems={gSems} ngt={gNGT} gdm={gGDM} sig="*" h={0.119} d={0.006} />
      <BarPanel axisX={1070} yTop={387} yBottom={502} max={8} ticks={[0, 2, 4, 6, 8]} fmt={f0}
        means={hMeans} sems={hSems} ngt={hNGT} gdm={hGDM} sig="**" h={7.36} d={0.35} />
      <BarPanel axisX={1213} yTop={381} yBottom={497} max={3} ticks={[0, 1, 2, 3]} fmt={f0}
        means={iMeans} sems={iSems} ngt={iNGT} gdm={iGDM} sig="ns" h={2.95} d={0.12} />

      <svg width={1290} height={529} style={{ position: 'absolute', left: 0, top: 0, pointerEvents: 'none' }} fontFamily={FONT}>
        <text x={28} y={34} fontSize={19} fill="#222">A</text>
        <text x={412} y={34} fontSize={19} fill="#222">B</text>
        <text x={28} y={331} fontSize={19} fill="#222">C</text>
        <text x={412} y={313} fontSize={19} fill="#222">D</text>
        <text x={815} y={39} fontSize={19} fill="#222">E</text>

        <g fontSize={12.8} fill="#222" textAnchor="middle">
          <text x={227} y={19}>Adipose_NGT vs Adipose_GDM</text>
          <text x={227} y={31.5}>(Comparison: Adipose_NGT-Adipose_GDM)</text>
          <text x={613} y={23}>EVs_NGT vs EVs_GDM</text>
          <text x={613} y={36}>(Comparison: EVs_NGT-EVs_GDM)</text>
          <text x={227} y={290}>Adipose_NGT vs EVs_NGT</text>
          <text x={227} y={303}>(Comparison: Adipose_NGT-EVs_NGT)</text>
          <text x={617} y={286}>Adipose_GDM vs EVs_GDM</text>
          <text x={617} y={299}>(Comparison: Adipose_GDM-EVs_GDM)</text>
        </g>

        <g fontSize={11.5} fill="#222" textAnchor="middle">
          <text x={227} y={271}>-Log10(P-value)</text>
          <text x={612} y={268}>-Log10(P-value)</text>
          <text x={227} y={526}>-Log10(P-value)</text>
          <text x={618} y={526}>-Log10(P-value)</text>
        </g>
        <Rot x={33} y={142} size={11.5}>Log2(Fold Change)</Rot>
        <Rot x={429} y={145} size={11.5}>Log2(Fold Change)</Rot>
        <Rot x={55} y={412} size={11.5}>Log2(Fold Change)</Rot>
        <Rot x={440} y={405} size={11.5}>Log2(Fold Change)</Rot>

        <Legend x={333} y={99} dy={7} items={[[DARK, 'p<0.05'], ['#cfcfcf', 'ns']]} />
        <text x={359} y={129} fontSize={8} fill="#e8312a">0 UP</text>
        <text x={359} y={140} fontSize={8} fill="#2e3ed6">0 DN</text>

        <Legend x={719} y={184} dy={7.5} items={fullItems.slice(0, 5)} />
        <text x={748} y={130} fontSize={8.5} fill="#e8312a">42 UP</text>
        <text x={748} y={141} fontSize={8.5} fill="#2e3ed6">12 DN</text>

        <Legend x={329} y={446} dy={5.4} fs={5.4} items={fullItems} />
        <text x={357} y={392} fontSize={8.5} fill="#e8312a">83 UP</text>
        <text x={357} y={402} fontSize={8.5} fill="#2e3ed6">77 DN</text>

        <Legend x={720} y={444} dy={7} items={fullItems} />
        <text x={747} y={390} fontSize={8.5} fill="#e8312a">444 UP</text>
        <text x={747} y={401} fontSize={8.5} fill="#2e3ed6">21 DN</text>

        <Rot x={854} y={130} size={12}>Adipose tissue</Rot>
        <Rot x={854} y={280} size={11.5}>Extracellular vesicles</Rot>
        <Rot x={854} y={443} size={12}>Placenta</Rot>
        <g stroke="#9a9a9a" strokeWidth={1.3} fill="none">
          <path d="M880,48 L872,48 L872,197 L880,197" />
          <path d="M880,203 L872,203 L872,355 L880,355" />
          <path d="M880,362 L872,362 L872,513 L880,513" />
        </g>

        <g fontSize={13} fill="#222">
          <text x={887} y={63}>a</text>
          <text x={1028} y={63}>b</text>
          <text x={1155} y={63}>c</text>
          <text x={887} y={223}>d</text>
          <text x={1023} y={223}>e</text>
          <text x={1159} y={223}>f</text>
          <text x={887} y={383}>g</text>
          <text x={1022} y={383}>h</text>
          <text x={1158} y={383}>i</text>
        </g>

        <Rot x={891} y={121} size={7.3}>miR-146a-5p expression</Rot>
        <Rot x={896} y={121} size={4.6}>2^-ΔCt(miR-146a-RNU6B)</Rot>
        <Rot x={1029} y={121} size={7.3}>miR-515-5p expression</Rot>
        <Rot x={1034} y={121} size={4.6}>2^-ΔCt(miR-515-RNU6B)</Rot>
        <Rot x={1180} y={121} size={7.3}>miR-516b-5p expression</Rot>
        <Rot x={1185} y={121} size={4.6}>2^-ΔCt(miR-516b-RNU6B)</Rot>
        <Rot x={892} y={280} size={7.3}>miR-146a-5p expression</Rot>
        <Rot x={897} y={280} size={4.6}>2^-ΔCt(miR-146a-RNU6B)</Rot>
        <Rot x={1023} y={280} size={7.3}>miR-515-5p expression</Rot>
        <Rot x={1028} y={280} size={4.6}>2^-ΔCt(miR-515-RNU6B)</Rot>
        <Rot x={1181} y={280} size={7.3}>miR-516b-5p expression</Rot>
        <Rot x={1186} y={280} size={4.6}>2^-ΔCt(miR-516b-RNU6B)</Rot>
        <Rot x={891} y={444} size={7.3}>miR-146a-5p expression</Rot>
        <Rot x={896} y={444} size={4.6}>2^-ΔCt(miR-146a-RNU6B)</Rot>
        <Rot x={1034} y={444} size={7.3}>miR-515-5p expression</Rot>
        <Rot x={1039} y={444} size={4.6}>2^-ΔCt(miR-515-RNU6B)</Rot>
        <Rot x={1189} y={439} size={7.3}>miR-516b-5p expression</Rot>
        <Rot x={1194} y={439} size={4.6}>2^-ΔCt(miR-516b-RNU6B)</Rot>
      </svg>
    </div>
  );
}
